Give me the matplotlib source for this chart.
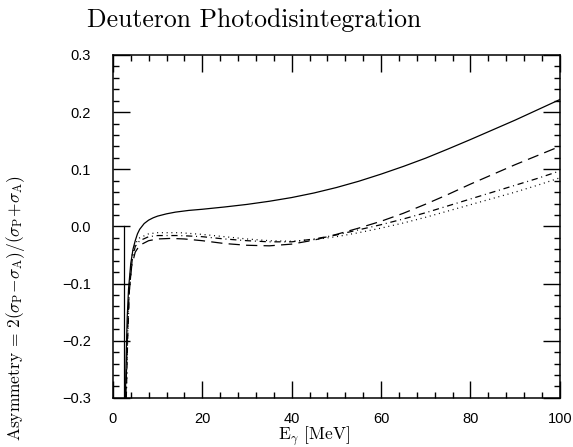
import numpy as np
import matplotlib
matplotlib.use('Agg')
from matplotlib import pyplot as plt
from matplotlib.ticker import MultipleLocator, FuncFormatter

plt.rcParams['mathtext.fontset'] = 'cm'

#Curve data (E_gamma in MeV, asymmetry)
e_solid = [2.8, 3.0, 3.2, 3.5, 4.0, 4.5, 5.0, 5.5, 6.0, 7.0, 8.0, 9.0, 10.0, 12.0, 14.0, 17.0,
           20.0, 25.0, 30.0, 35.0, 40.0, 45.0, 50.0, 55.0, 60.0, 65.0, 70.0, 75.0, 80.0, 85.0,
           90.0, 95.0, 100.0]
a_solid = [-0.30, -0.22, -0.16, -0.11, -0.065, -0.04, -0.025, -0.013, -0.005, 0.005, 0.011,
           0.015, 0.018, 0.022, 0.025, 0.028, 0.030, 0.034, 0.0385, 0.044, 0.0505, 0.0585,
           0.068, 0.079, 0.0915, 0.105, 0.1195, 0.1355, 0.152, 0.169, 0.186, 0.204, 0.222]

e_dash = [2.9, 3.2, 3.6, 4.2, 5.0, 6.0, 8.0, 10.0, 13.0, 16.0, 20.0, 25.0, 30.0, 35.0, 40.0, 45.0,
          50.0, 55.0, 60.0, 65.0, 70.0, 75.0, 80.0, 85.0, 90.0, 95.0, 100.0]
a_dash = [-0.30, -0.20, -0.12, -0.07, -0.045, -0.033, -0.025, -0.022, -0.021, -0.022, -0.025, -0.030,
          -0.033, -0.034, -0.031, -0.024, -0.014, -0.003, 0.009, 0.023, 0.039, 0.056, 0.074, 0.091,
          0.108, 0.124, 0.140]

e_dashdot = [3.0, 3.3, 3.7, 4.3, 5.0, 6.0, 8.0, 10.0, 15.0, 20.0, 25.0, 30.0, 35.0, 40.0, 45.0,
             50.0, 55.0, 60.0, 65.0, 70.0, 75.0, 80.0, 85.0, 90.0, 95.0, 100.0]
a_dashdot = [-0.30, -0.20, -0.11, -0.06, -0.035, -0.025, -0.018, -0.016, -0.016, -0.018, -0.022,
             -0.025, -0.027, -0.027, -0.022, -0.015, -0.006, 0.003, 0.013, 0.024, 0.036, 0.048,
             0.060, 0.072, 0.084, 0.097]

e_dot = [3.0, 3.3, 3.7, 4.3, 5.0, 6.0, 8.0, 10.0, 15.0, 20.0, 25.0, 30.0, 35.0, 40.0, 45.0,
         50.0, 55.0, 60.0, 65.0, 70.0, 75.0, 80.0, 85.0, 90.0, 95.0, 100.0]
a_dot = [-0.30, -0.19, -0.10, -0.05, -0.03, -0.02, -0.013, -0.011, -0.011, -0.014, -0.018, -0.022,
         -0.025, -0.026, -0.023, -0.018, -0.011, -0.003, 0.006, 0.016, 0.027, 0.038, 0.049, 0.060,
         0.072, 0.085]

#threshold line
e_thr = [2.45, 2.45]
a_thr = [0.0, -0.30]

fig = plt.figure(figsize=(5.73, 4.47), dpi=100)
ax = fig.add_axes([0.197, 0.110, 0.780, 0.767])

lw = 0.9
ax.plot(e_solid, a_solid, color='black', lw=lw)
ax.plot(e_thr, a_thr, color='black', lw=lw)
ax.plot(e_dash, a_dash, color='black', lw=lw, linestyle=(0, (9, 5)))
ax.plot(e_dashdot, a_dashdot, color='black', lw=lw, linestyle=(0, (5, 3, 0.8, 3)))
ax.plot(e_dot, a_dot, color='black', lw=lw, linestyle=(0, (0.8, 3)))

ax.set_xlim(0, 100)
ax.set_ylim(-0.3, 0.3)
ax.xaxis.set_major_locator(MultipleLocator(20))
ax.xaxis.set_minor_locator(MultipleLocator(4))
ax.yaxis.set_major_locator(MultipleLocator(0.1))
ax.yaxis.set_minor_locator(MultipleLocator(0.02))
ax.yaxis.set_major_formatter(FuncFormatter(lambda v, p: ('%.1f' % v).replace('-', '\u2212')))
ax.tick_params(which='both', direction='in', top=True, right=True, width=1.0)
ax.tick_params(which='major', length=12)
ax.tick_params(which='minor', length=4.5)
ax.tick_params(axis='y', pad=16)
ax.tick_params(axis='x', pad=10)
for lab in ax.get_xticklabels() + ax.get_yticklabels():
    lab.set_fontfamily('Liberation Sans')
    lab.set_fontsize(10.5)
for s in ax.spines.values():
    s.set_linewidth(1.1)

fig.text(87/573, 1 - 20/447, 'Deuteron Photodisintegration', family='cmr10', fontsize=18.5,
         ha='left', va='center')
fig.text(314/573, 1 - 436/447, r'$\mathrm{E_\gamma}$ [MeV]', family='cmr10', fontsize=12.5,
         ha='center', va='center')
fig.text(16/573, 1 - 308/447,
         r'Asymmetry = $2(\sigma_{\rm P}\!-\!\sigma_{\rm A})/(\sigma_{\rm P}\!+\!\sigma_{\rm A})$',
         family='cmr10', fontsize=12.5, rotation=90, ha='center', va='center')

fig.savefig('out.png', dpi=100)
